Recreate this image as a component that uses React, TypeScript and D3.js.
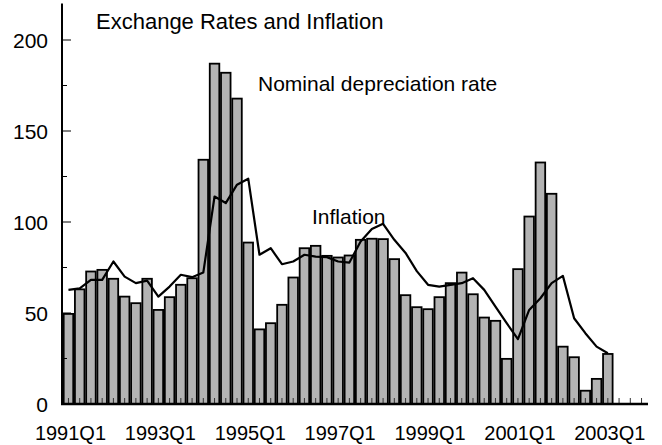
import React, { useEffect, useRef } from "react";
import * as d3 from "d3";

const quarters = [
  "1991Q1", "1991Q2", "1991Q3", "1991Q4", "1992Q1", "1992Q2", "1992Q3", "1992Q4",
  "1993Q1", "1993Q2", "1993Q3", "1993Q4", "1994Q1", "1994Q2", "1994Q3", "1994Q4",
  "1995Q1", "1995Q2", "1995Q3", "1995Q4", "1996Q1", "1996Q2", "1996Q3", "1996Q4",
  "1997Q1", "1997Q2", "1997Q3", "1997Q4", "1998Q1", "1998Q2", "1998Q3", "1998Q4",
  "1999Q1", "1999Q2", "1999Q3", "1999Q4", "2000Q1", "2000Q2", "2000Q3", "2000Q4",
  "2001Q1", "2001Q2", "2001Q3", "2001Q4", "2002Q1", "2002Q2", "2002Q3", "2002Q4",
  "2003Q1", "2003Q2", "2003Q3", "2003Q4",
];

// nominal depreciation rate (bars), 1991Q1 - 2003Q1
const depreciation = [
  49.5, 63, 72.8, 73.7, 68.8, 59, 55.4, 68.8, 51.7, 58.7, 65.5, 69.1,
  134.2, 187, 182, 167.8, 88.7, 41, 44.4, 54.5, 69.5, 85.6, 86.9, 81.4,
  80.5, 81.6, 90.2, 90.8, 90.6, 79.6, 59.8, 53.2, 52.1, 58.7, 66.4, 72.2,
  60.3, 47.5, 45.7, 24.8, 74.1, 103, 132.7, 115.5, 31.5, 25.7, 7.3, 13.8,
  27.5,
];

// inflation (line), 1991Q1 - 2003Q1
const inflation = [
  62.7, 63.5, 68.2, 68.2, 78.3, 70, 66.4, 67.8, 59, 64.5, 71, 69.7,
  72.2, 114, 110.4, 120.5, 123.8, 82, 85.6, 76.8, 78.3, 82, 81, 80.7,
  78.3, 77.7, 89.3, 96.1, 99, 90.2, 83, 73, 65.5, 64.5, 65.5, 66.4,
  69.1, 62.7, 53.5, 44.4, 35.6, 51.7, 58.1, 66.4, 70.4, 47.1, 38.9, 31.5,
  27.9,
];

const yTicks = [0, 50, 100, 150, 200];
const yMinorTicks = [25, 75, 125, 175];
const xLabels = ["1991Q1", "1993Q1", "1995Q1", "1997Q1", "1999Q1", "2001Q1", "2003Q1"];

export default function App() {
  const svgRef = useRef(null);

  useEffect(() => {
    document.body.style.margin = "0";
    const svg = d3.select(svgRef.current);
    svg.selectAll("*").remove();

    const width = 662;
    const height = 445;
    const font = "'Liberation Sans', Arial, sans-serif";

    svg.attr("width", width).attr("height", height);

    const x = d3.scaleBand().domain(quarters).range([62, 648]).padding(0.15);
    const y = d3.scaleLinear().domain([0, 220]).range([404, 3.6]);
    const cx = (q) => x(q) + x.bandwidth() / 2;

    // Bars
    svg.append("g")
      .selectAll("rect")
      .data(depreciation)
      .join("rect")
      .attr("x", (d, i) => x(quarters[i]))
      .attr("y", d => y(d))
      .attr("width", x.bandwidth())
      .attr("height", d => y(0) - y(d))
      .attr("fill", "#b3b3b3")
      .attr("stroke", "black")
      .attr("stroke-width", 1.8);

    // x ticks (inward)
    svg.append("g")
      .selectAll("line")
      .data(quarters)
      .join("line")
      .attr("x1", d => cx(d))
      .attr("x2", d => cx(d))
      .attr("y1", y(0))
      .attr("y2", y(0) - 6)
      .attr("stroke", "#333")
      .attr("stroke-width", 1);

    // Inflation line
    svg.append("path")
      .datum(inflation)
      .attr("fill", "none")
      .attr("stroke", "black")
      .attr("stroke-width", 2.2)
      .attr("stroke-linejoin", "round")
      .attr("d", d3.line().x((d, i) => cx(quarters[i])).y(d => y(d)));

    // Axes lines
    svg.append("line")
      .attr("x1", 62).attr("x2", 62)
      .attr("y1", y(0)).attr("y2", y(220))
      .attr("stroke", "black").attr("stroke-width", 2);
    svg.append("line")
      .attr("x1", 61).attr("x2", 648)
      .attr("y1", y(0)).attr("y2", y(0))
      .attr("stroke", "black").attr("stroke-width", 2.5);

    // y ticks
    svg.append("g")
      .selectAll("line")
      .data(yTicks.filter(d => d > 0))
      .join("line")
      .attr("x1", 62).attr("x2", 71)
      .attr("y1", d => y(d)).attr("y2", d => y(d))
      .attr("stroke", "black").attr("stroke-width", 1);
    svg.append("g")
      .selectAll("line")
      .data(yMinorTicks)
      .join("line")
      .attr("x1", 62).attr("x2", 67)
      .attr("y1", d => y(d)).attr("y2", d => y(d))
      .attr("stroke", "black").attr("stroke-width", 1);

    svg.append("g")
      .selectAll("text")
      .data(yTicks)
      .join("text")
      .attr("x", 48)
      .attr("y", d => y(d) + 7.5)
      .attr("text-anchor", "end")
      .style("font-family", font)
      .style("font-size", "21px")
      .text(d => d);

    svg.append("g")
      .selectAll("text")
      .data(xLabels)
      .join("text")
      .attr("x", d => cx(d) + 2)
      .attr("y", 440)
      .attr("text-anchor", "middle")
      .style("font-family", font)
      .style("font-size", "20px")
      .text(d => d);

    // Titles / labels
    const label = (tx, ty, t, size) =>
      svg.append("text")
        .attr("x", tx).attr("y", ty)
        .style("font-family", font)
        .style("font-size", size)
        .text(t);
    label(96, 29, "Exchange Rates and Inflation", "22px");
    label(258, 91, "Nominal depreciation rate", "21px");
    label(312, 224, "Inflation", "21px");
  }, []);

  return <svg ref={svgRef} style={{ display: "block" }}></svg>;
}
